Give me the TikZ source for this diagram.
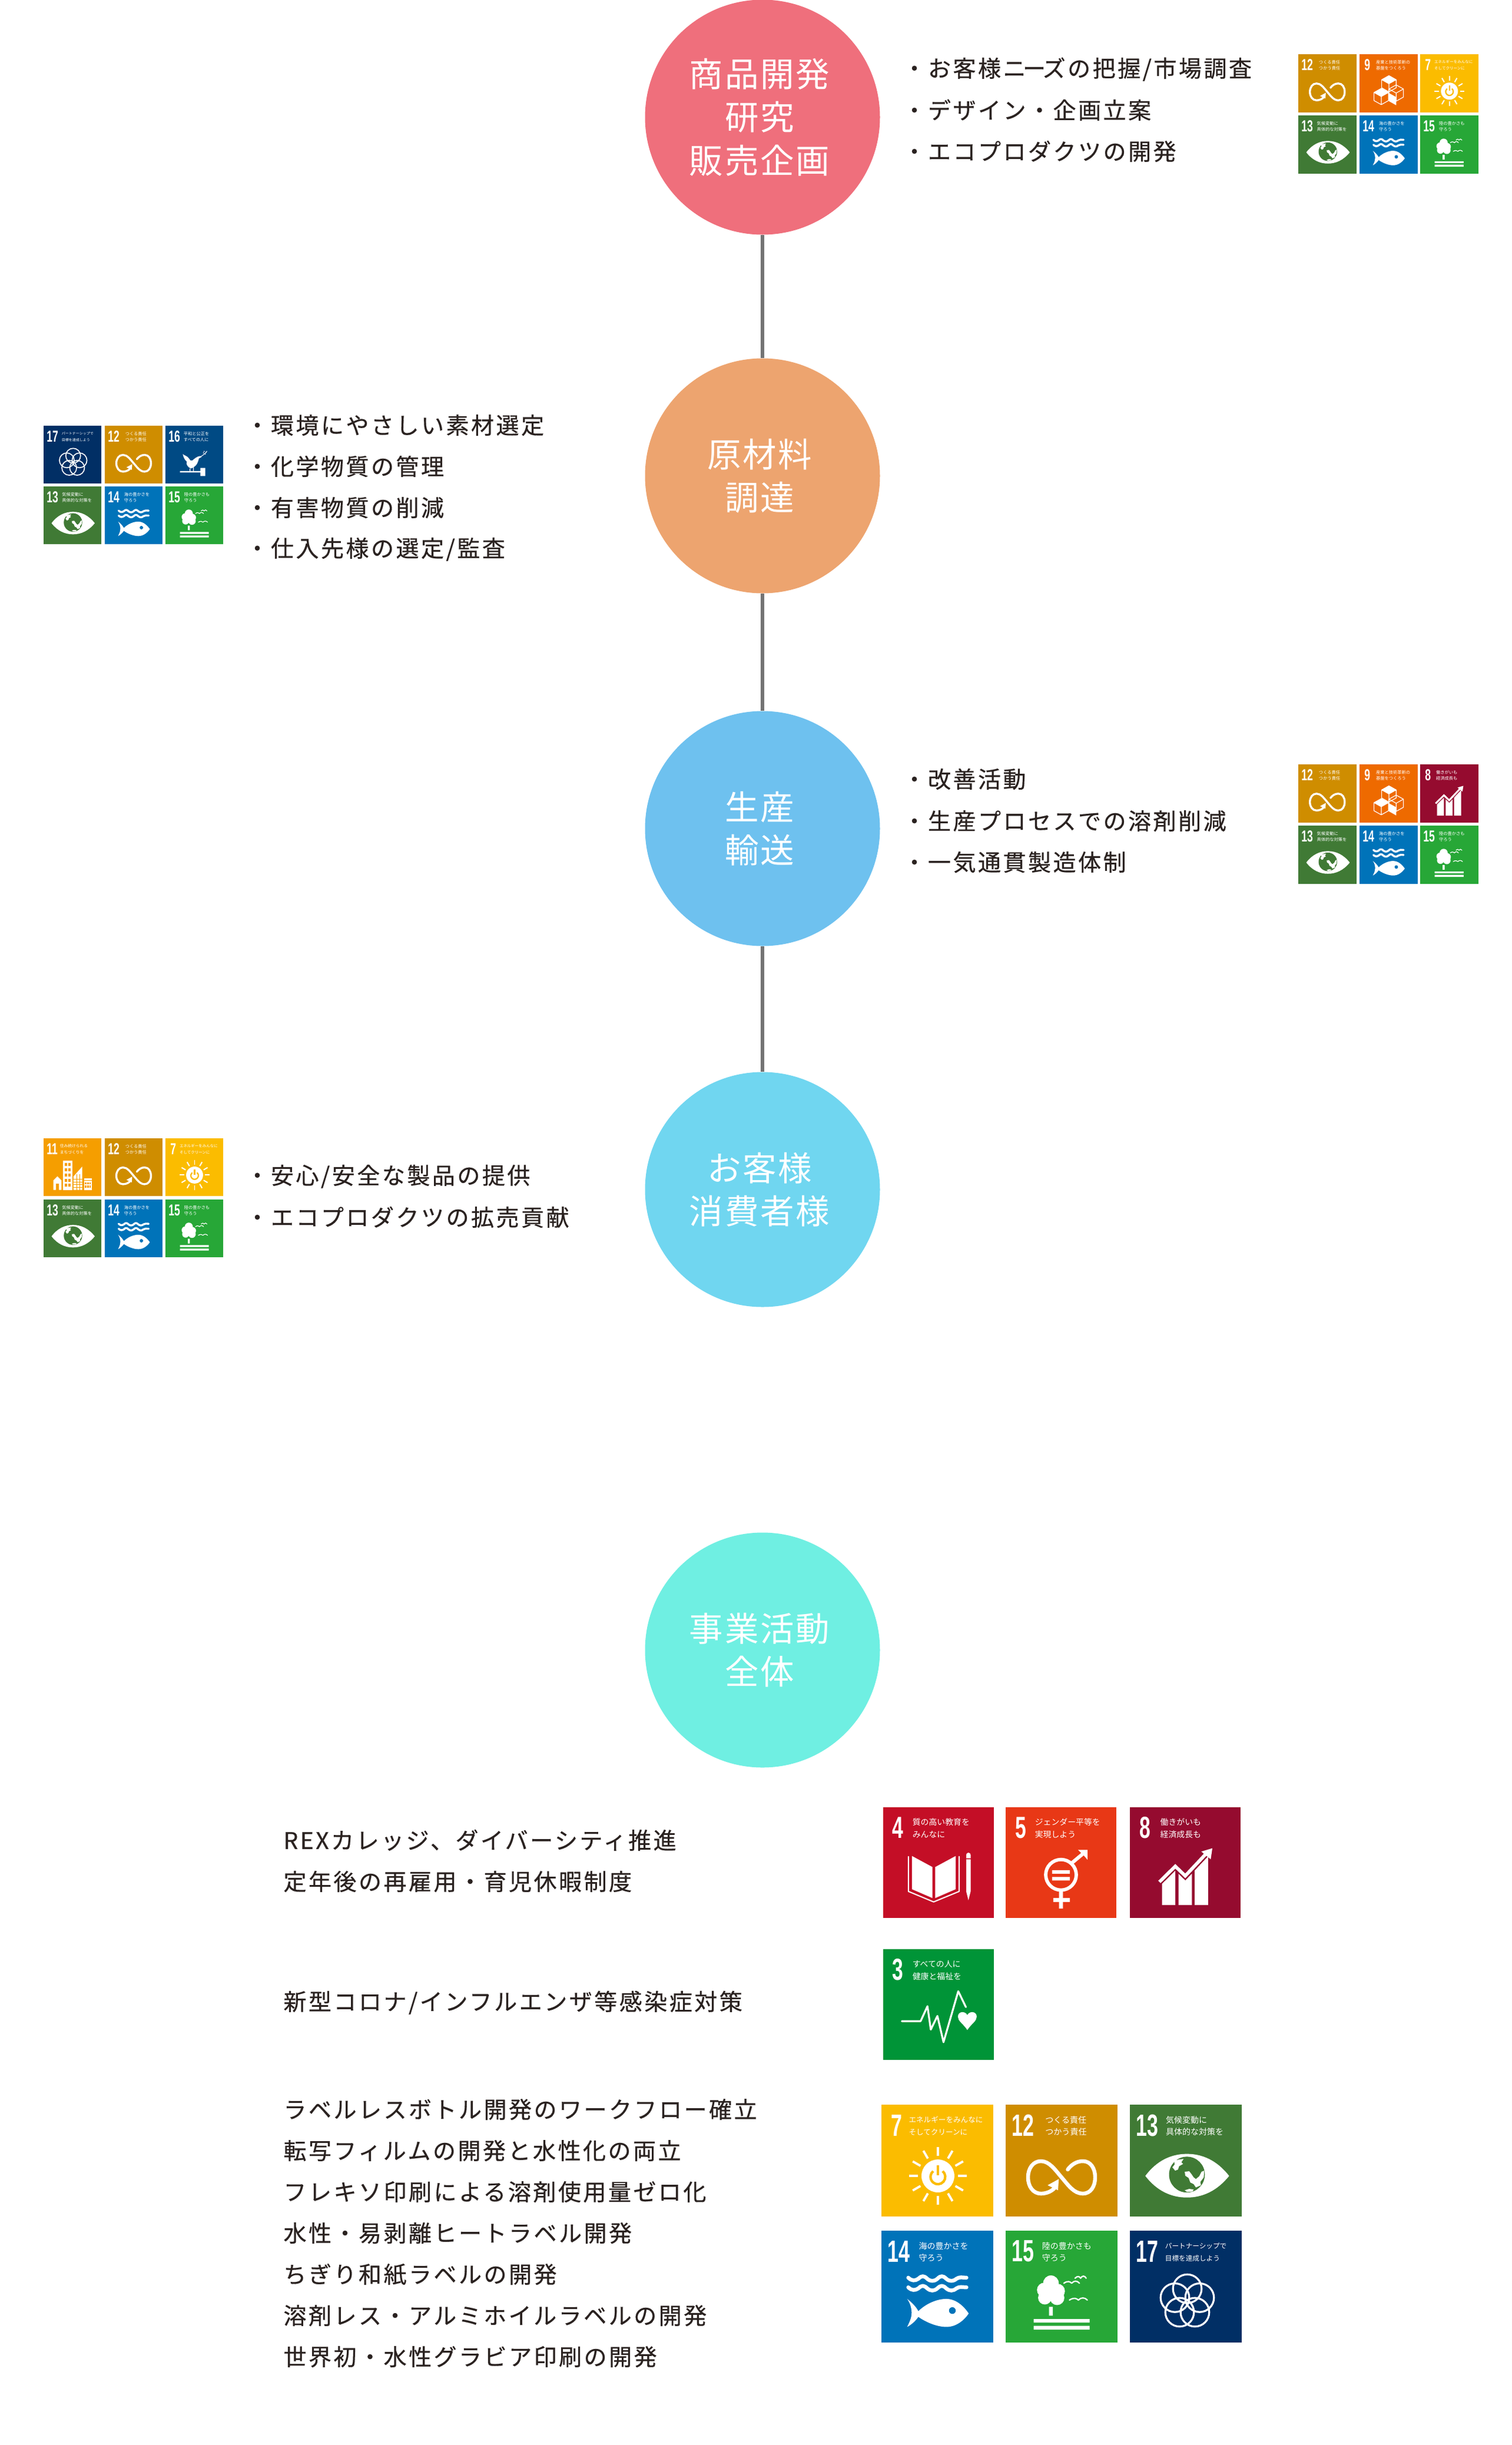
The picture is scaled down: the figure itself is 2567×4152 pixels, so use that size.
\documentclass[tikz,border=0pt]{standalone}
\usepackage{fontspec}
\setmainfont{Noto Sans CJK JP}
\newfontfamily\bodyf[LetterSpace=9,FakeBold=0.5]{Noto Sans CJK JP}
\newfontfamily\circf[LetterSpace=5]{Noto Sans CJK JP}
\newfontfamily\numf{Liberation Sans}
\newlength\tu
\newcommand\cs{\rule{0pt}{.88em}\rule[-.12em]{0pt}{.12em}}
\newcommand\bl[1]{\cs #1\kern.17em}
\definecolor{txt}{HTML}{2A2220}
\definecolor{cA}{HTML}{EF6F7C}
\definecolor{cB}{HTML}{EDA46F}
\definecolor{cC}{HTML}{6EC1EF}
\definecolor{cD}{HTML}{70D6F0}
\definecolor{cE}{HTML}{6FEFE2}
\definecolor{sthree}{HTML}{009437}
\definecolor{sfour}{HTML}{C40E26}
\definecolor{sfive}{HTML}{E83816}
\definecolor{sseven}{HTML}{FBBC00}
\definecolor{seight}{HTML}{950B2F}
\definecolor{snine}{HTML}{EE6A00}
\definecolor{seleven}{HTML}{F59E00}
\definecolor{stwelve}{HTML}{CF8D00}
\definecolor{sthirteen}{HTML}{407A35}
\definecolor{sfourteen}{HTML}{0073B9}
\definecolor{sfifteen}{HTML}{27A737}
\definecolor{ssixteen}{HTML}{004A84}
\definecolor{sseventeen}{HTML}{012F65}
\tikzset{
  bubble/.style={circle,inner sep=0pt,minimum size=159.6pt,align=center,text=white,
    font=\circf\fontsize{23}{29.4}\selectfont},
  link/.style={draw=black!55,line width=2.3pt},
  item/.style={anchor=west,inner sep=0pt,text=txt,font=\bodyf\fontsize{15.6}{18}\selectfont},
  tnum/.style={anchor=west,inner sep=0pt,text=white,transform shape,font=\numf\bfseries\fontsize{11}{11}\selectfont},
  tlab/.style={anchor=west,inner sep=0pt,text=white,transform shape},
  wl/.style={draw=white,line width=#1\tu,line cap=round,line join=round,fill=none},
}
% base of a tile: colour, number, x of number, x of label, label size, line 1, line 2
\newcommand\tilebase[7]{%
  \fill[#1] (0,0) rectangle (100,-100);
  \node[tnum] (num) at (#3,-18.5) {\scalebox{.65}[1]{#2}};
  \node[tlab,font=\fontsize{#5}{#5}\selectfont] (la) at (#4,-13.6) {\cs #6};
  \node[tlab,font=\fontsize{#5}{#5}\selectfont] (lb) at (#4,-24.5) {\cs #7};
}
\newcommand\isocube[3]{%
  \fill[white,#3] (#1,#2) -- ++(12.5,7) -- ++(-12.5,7) -- ++(-12.5,-7) -- cycle;
  \draw[wl=1.2] (#1,#2) -- ++(12.5,7) -- ++(0,14) -- ++(-12.5,7) -- ++(-12.5,-7) -- ++(0,-14) -- cycle
    (#1-12.5,#2+7) -- (#1,#2+14) -- (#1+12.5,#2+7) (#1,#2+14) -- (#1,#2+28);
}
\newcommand\goalthree{\tilebase{sthree}{3}{8}{26}{2.95}{すべての人に}{健康と福祉を}
  \begin{scope}[yscale=-1]
  \draw[wl=1.7] (16.8,65) -- (33.8,65) -- (40,51.5) -- (43,72.6) -- (49,60.3) -- (54.5,84) -- (67.8,38) -- (74.7,52.3);
  \fill[white] (76,73) .. controls (72,67) and (67.5,65) .. (67.5,61) .. controls (67.5,56) and (74,55.5) .. (76,59.5) .. controls (78,55.5) and (84.5,56) .. (84.5,61) .. controls (84.5,65) and (80,67) .. (76,73) -- cycle;
  \end{scope}}
\newcommand\goalfour{\tilebase{sfour}{4}{8}{26}{2.95}{質の高い教育を}{みんなに}
  \begin{scope}[yscale=-1]
  \fill[white] (26,44) -- (44.5,54) -- (44.5,82) -- (26,74) -- cycle;
  \fill[white] (47,54) -- (65.5,44) -- (65.5,74) -- (47,82) -- cycle;
  \draw[wl=1.1] (22.8,44.5) -- (22.8,76) -- (45.6,85.5) -- (68.6,76) -- (68.6,44.5);
  \fill[white] (75,46) -- (75,43) arc[start angle=180,end angle=360,radius=2] -- (79,46) -- cycle;
  \fill[white] (75,47) -- (79,47) -- (79,76) -- (77,84) -- (75,76) -- cycle;
  \end{scope}}
\newcommand\goalfive{\tilebase{sfive}{5}{8}{26}{2.95}{ジェンダー平等を}{実現しよう}
  \begin{scope}[yscale=-1]
  \draw[wl=3.1] (50,61) circle[radius=13.8];
  \fill[white] (42,56.8) rectangle (58,60) (42,63) rectangle (58,66.2);
  \fill[white] (48.2,75) rectangle (51.8,91.5) (43,82) rectangle (58,85.6);
  \draw[white,line width=3.2\tu] (59,51) -- (71,41);
  \fill[white] (74,38.5) -- (74,47.5) -- (71,44) -- (68,41) -- (65.5,38.5) -- cycle;
  \end{scope}}
\newcommand\goalseven{\tilebase{sseven}{7}{8}{24}{2.65}{エネルギーをみんなに}{そしてクリーンに}
  \begin{scope}[yscale=-1]
  \fill[white] (50.5,63.7) circle[radius=14.7];
  \foreach \a in {0,30,...,330}
    \draw[white,line width=2\tu] ({50.5+18*cos(\a)},{63.7+18*sin(\a)}) -- ({50.5+26*cos(\a)},{63.7+26*sin(\a)});
  \draw[sseven,line width=2.2\tu] (54.74,59.44) arc[start angle=-50,end angle=230,radius=6.6];
  \draw[sseven,line width=2.2\tu] (50.5,54) -- (50.5,63);
  \end{scope}}
\newcommand\goaleight{\tilebase{seight}{8}{8}{27}{2.95}{働きがいも}{経済成長も}
  \begin{scope}[yscale=-1]
  \fill[white] (29,66) -- (41,56) -- (41,88.4) -- (29,88.4) -- cycle;
  \fill[white] (44,59) -- (50,65.5) -- (56,60) -- (56,88.4) -- (44,88.4) -- cycle;
  \fill[white] (58.5,57) -- (70.7,43) -- (70.7,88.4) -- (58.5,88.4) -- cycle;
  \draw[seight,line width=5.6\tu] (26.7,67.4) -- (41,53.3) -- (50,62) -- (70.7,40);
  \draw[white,line width=3\tu] (26.7,67.4) -- (41,53.3) -- (50,62) -- (70.7,40);
  \fill[white] (74.5,37) -- (73,47) -- (64.5,40) -- cycle;
  \end{scope}}
\newcommand\goalnine{\tilebase{snine}{9}{8}{28}{2.95}{産業と技術革新の}{基盤をつくろう}
  \begin{scope}[yscale=-1]
  \isocube{50.7}{37}{}
  \isocube{63.2}{53}{fill opacity=0}
  \isocube{37.5}{59}{}
  \fill[white] (50.7,67) -- (63.2,74) -- (63.2,88) -- (50.7,81) -- cycle;
  \end{scope}}
\newcommand\goaleleven{\tilebase{seleven}{11}{5}{28}{2.75}{住み続けられる}{まちづくりを}
  \begin{scope}[yscale=-1]
  \fill[white] (17,73) -- (24,66) -- (31,73) -- (31,89.5) -- (17,89.5) -- cycle;
  \fill[seleven] (21,79) rectangle (27,89.5);
  \fill[white] (34,39) rectangle (50,89.5);
  \foreach \i in {0,...,4} \foreach \j in {0,1}
    \fill[seleven] (36.5+\j*6.5,43+\i*9) rectangle ++(4,5);
  \fill[white] (52,66) -- (67,49) -- (67,89.5) -- (52,89.5) -- cycle;
  \foreach \i in {0,...,3} \fill[seleven] (52,70+\i*5) rectangle ++(15,.9);
  \foreach \i in {0,...,1} \fill[seleven] (57+\i*5,62) rectangle ++(.9,28);
  \fill[white] (70,69) rectangle (84,89.5);
  \fill[seleven] (70,72) rectangle (84,73);
  \foreach \i in {0,1,2} \foreach \j in {0,1} \fill[seleven] (71.5+\i*4,76+\j*6) rectangle ++(2.6,4);
  \end{scope}}
\newcommand\goaltwelve{\tilebase{stwelve}{12}{5}{35}{2.95}{つくる責任}{つかう責任}
  \begin{scope}[yscale=-1]
  \draw[wl=3.4] (44.5,73.5) .. controls (42,77) and (37,79.5) .. (31.5,79.5) .. controls (24.5,79.5) and (20,73) .. (20,65) .. controls (20,57) and (24.5,50.5) .. (31.5,50.5) .. controls (39,50.5) and (44,58) .. (50,65) .. controls (56,72) and (61,79.5) .. (69,79.5) .. controls (76,79.5) and (80,73) .. (80,65) .. controls (80,57) and (76,50.5) .. (69,50.5) .. controls (63,50.5) and (58.5,54) .. (55.5,58);
  \fill[white] (47.5,66.5) -- (46.8,76.5) -- (37.5,72) -- cycle;
  \end{scope}}
\newcommand\goalthirteen{\tilebase{sthirteen}{13}{5}{31.6}{2.95}{気候変動に}{具体的な対策を}
  \begin{scope}[yscale=-1]
  \fill[white] (13.8,63.7) .. controls (24,50) and (37,44) .. (51,44) .. controls (65,44) and (78,50) .. (88.7,63.7) .. controls (78,77) and (65,83) .. (51,83) .. controls (37,83) and (24,77) .. (13.8,63.7) -- cycle;
  \fill[sthirteen] (51,62.5) circle[radius=16];
  \fill[white] (39.5,50) -- (44,49) -- (48,48.5) -- (46,51.5) -- (47.5,53) -- (44,55) -- (43,58) -- (40.5,59) -- (38,56) -- (40,53.5) -- cycle;
  \fill[white] (49,60) -- (53,59.5) -- (55,62) -- (57,65) -- (59,66.5) -- (62,64) -- (64,60) -- (66.5,59) -- (66,65) -- (63,69) -- (63.5,72) -- (59,74) -- (57,71) -- (54,69.5) -- (52.5,65.5) -- (49.5,63.5) -- cycle;
  \fill[white] (49,76.5) -- (53,75.3) -- (57,75.8) -- (56,77.6) -- (51,78) -- cycle;
  \end{scope}}
\newcommand\goalfourteen{\tilebase{sfourteen}{14}{5}{33}{2.95}{海の豊かさを}{守ろう}
  \begin{scope}[yscale=-1]
  \foreach \y in {43,51.6}
    \draw[wl=3.4] (24,\y-1) .. controls (27,\y+2) and (30,\y+2) .. (33,\y) .. controls (36,\y-3) and (38,\y-3) .. (41,\y) .. controls (44,\y+2.5) and (47,\y+2.5) .. (50,\y) .. controls (53,\y-3) and (55,\y-3) .. (58,\y) .. controls (61,\y+2.5) and (64,\y+2.5) .. (67,\y) .. controls (70,\y-2) and (72,\y-1) .. (76,\y-1);
  \fill[white] (23,61) .. controls (27,64) and (31,68) .. (33,72) .. controls (40,65) and (50,61) .. (58,61) .. controls (67,61) and (74,68) .. (78,74) .. controls (74,80) and (67,86) .. (58,86) .. controls (50,86) and (40,82) .. (33,77) .. controls (31,80) and (27,84) .. (23,86) .. controls (26,80) and (27,77) .. (27,73.5) .. controls (27,70) and (26,65) .. (23,61) -- cycle;
  \fill[sfourteen] (63.4,71.4) circle[radius=3];
  \end{scope}}
\newcommand\goalfifteen{\tilebase{sfifteen}{15}{5}{32}{2.95}{陸の豊かさも}{守ろう}
  \begin{scope}[yscale=-1]
  \fill[white] (40.5,47) circle[radius=7] (34.5,53) circle[radius=6.5] (46.5,54) circle[radius=6.5] (35,60) circle[radius=6] (46,60) circle[radius=6.5] (40,56) circle[radius=7];
  \fill[white] (38.8,68) rectangle (42.2,76) (25,79) rectangle (75,82.2) (25,85) rectangle (75,88.4);
  \foreach \x/\y/\w in {52/47/14,62/42.5/10,57/62/16}
    \draw[wl=1.2] (\x,\y) .. controls (\x+.25*\w,\y-2.5) and (\x+.4*\w,\y-1.5) .. (\x+.5*\w,\y) .. controls (\x+.65*\w,\y-2.5) and (\x+.85*\w,\y-2.5) .. (\x+\w,\y);
  \end{scope}}
\newcommand\goalsixteen{\tilebase{ssixteen}{16}{5}{31}{2.95}{平和と公正を}{すべての人に}
  \begin{scope}[yscale=-1]
  \fill[white] (30,49) .. controls (33,52) and (38,52) .. (41,57) .. controls (42,60) and (44,61) .. (47,60) .. controls (50,57) and (55,53) .. (60,52.5) -- (63,54) -- (58,56.5) .. controls (56,66) and (52,72) .. (44,74) .. controls (39,72) and (35,67) .. (37,62) .. controls (33,59) and (31,54) .. (30,49) -- cycle;
  \fill[white] (42,74) rectangle (43.2,80) (48,72) rectangle (49.2,80);
  \fill[white] (25,78.5) rectangle (62,81) (60.5,73) rectangle (69,87);
  \draw[wl=1] (60,54) .. controls (64,52) and (68,49) .. (72,44);
  \fill[white] (66,47) circle[radius=1] (69,49) circle[radius=1] (67,44.5) circle[radius=1] (70.5,46) circle[radius=1];
  \end{scope}}
\newcommand\goalseventeen{\tilebase{sseventeen}{17}{5}{31}{2.45}{パートナーシップで}{目標を達成しよう}
  \begin{scope}[yscale=-1]
  \foreach \a in {270,342,54,126,198}
    \draw[wl=1.7] ({51.3+11.6*cos(\a)},{63.5+11.6*sin(\a)}) circle[radius=12.8];
  \end{scope}}
% x, y of the top-left corner, side/100, goal
\newcommand\placetile[4]{%
  \pgfmathsetlength{\tu}{#3*0.4pt}%
  \begin{scope}[shift={(#1,-#2)},scale=#3,name prefix={t#1x#2-}]#4\end{scope}}
\begin{document}
\begin{tikzpicture}[x=0.4pt,y=0.4pt]
\useasboundingbox (0,0) rectangle (2567,-4152);
\fill[white] (0,0) rectangle (2567,-4152);
\node[bubble,fill=cA] (c1) at (1295,-199) {\bl{商品開発}\\\bl{研究}\\\bl{販売企画}};
\node[bubble,fill=cB] (c2) at (1295,-808) {\bl{原材料}\\\bl{調達}};
\node[bubble,fill=cC] (c3) at (1295,-1407) {\bl{生産}\\\bl{輸送}};
\node[bubble,fill=cD] (c4) at (1295,-2020) {\bl{お客様}\\\bl{消費者様}};
\node[bubble,fill=cE] (c5) at (1295,-2802) {\bl{事業活動}\\\bl{全体}};
\draw[link] (c1) -- (c2);
\draw[link] (c2) -- (c3);
\draw[link] (c3) -- (c4);
% item lists
\node[item] (a1) at (1533,-117) {\cs ・お客様ニ\kern-.14emー\kern-.14emズの把握/市場調査};
\node[item] (a2) at (1533,-187) {\cs ・デザイン・企画立案};
\node[item] (a3) at (1533,-257) {\cs ・エコプロダクツの開発};
\node[item] (b1) at (417,-722) {\cs ・環境にやさしい素材選定};
\node[item] (b2) at (417,-792) {\cs ・化学物質の管理};
\node[item] (b3) at (417,-862) {\cs ・有害物質の削減};
\node[item] (b4) at (417,-932) {\cs ・仕入先様の選定/監査};
\node[item] (d1) at (1533,-1323) {\cs ・改善活動};
\node[item] (d2) at (1533,-1394) {\cs ・生産プロセスでの溶剤削減};
\node[item] (d3) at (1533,-1464) {\cs ・一気通貫製造体制};
\node[item] (e1) at (417,-1997) {\cs ・安心/安全な製品の提供};
\node[item] (e2) at (417,-2067) {\cs ・エコプロダクツの拡売貢献};
\node[item] (f1) at (481,-3125) {\cs REXカレッジ、ダイバーシティ推進};
\node[item] (f2) at (481,-3195) {\cs 定年後の再雇用・育児休暇制度};
\node[item] (f3) at (481,-3400) {\cs 新型コロナ/インフルエンザ等感染症対策};
\node[item] (g1) at (481,-3582) {\cs ラベルレスボトル開発のワークフロー確立};
\node[item] (g2) at (481,-3652) {\cs 転写フィルムの開発と水性化の両立};
\node[item] (g3) at (481,-3722) {\cs フレキソ印刷による溶剤使用量ゼロ化};
\node[item] (g4) at (481,-3792) {\cs 水性・易剥離ヒートラベル開発};
\node[item] (g5) at (481,-3862) {\cs ちぎり和紙ラベルの開発};
\node[item] (g6) at (481,-3932) {\cs 溶剤レス・アルミホイルラベルの開発};
\node[item] (g7) at (481,-4002) {\cs 世界初・水性グラビア印刷の開発};
% tiles
\placetile{2205}{92}{.985}{\goaltwelve}
\placetile{2309}{92}{.985}{\goalnine}
\placetile{2412}{92}{.985}{\goalseven}
\placetile{2205}{196}{.985}{\goalthirteen}
\placetile{2309}{196}{.985}{\goalfourteen}
\placetile{2412}{196}{.985}{\goalfifteen}
\placetile{74}{723}{.98}{\goalseventeen}
\placetile{178}{723}{.98}{\goaltwelve}
\placetile{281}{723}{.98}{\goalsixteen}
\placetile{74}{826}{.98}{\goalthirteen}
\placetile{178}{826}{.98}{\goalfourteen}
\placetile{281}{826}{.98}{\goalfifteen}
\placetile{2205}{1298}{.985}{\goaltwelve}
\placetile{2309}{1298}{.985}{\goalnine}
\placetile{2412}{1298}{.985}{\goaleight}
\placetile{2205}{1402}{.985}{\goalthirteen}
\placetile{2309}{1402}{.985}{\goalfourteen}
\placetile{2412}{1402}{.985}{\goalfifteen}
\placetile{74}{1933}{.98}{\goaleleven}
\placetile{178}{1933}{.98}{\goaltwelve}
\placetile{281}{1933}{.98}{\goalseven}
\placetile{74}{2037}{.98}{\goalthirteen}
\placetile{178}{2037}{.98}{\goalfourteen}
\placetile{281}{2037}{.98}{\goalfifteen}
\placetile{1500}{3069}{1.88}{\goalfour}
\placetile{1708}{3069}{1.88}{\goalfive}
\placetile{1919}{3069}{1.88}{\goaleight}
\placetile{1500}{3310}{1.88}{\goalthree}
\placetile{1497}{3574}{1.9}{\goalseven}
\placetile{1708}{3574}{1.9}{\goaltwelve}
\placetile{1919}{3574}{1.9}{\goalthirteen}
\placetile{1497}{3788}{1.9}{\goalfourteen}
\placetile{1708}{3788}{1.9}{\goalfifteen}
\placetile{1919}{3788}{1.9}{\goalseventeen}
\end{tikzpicture}
\end{document}
